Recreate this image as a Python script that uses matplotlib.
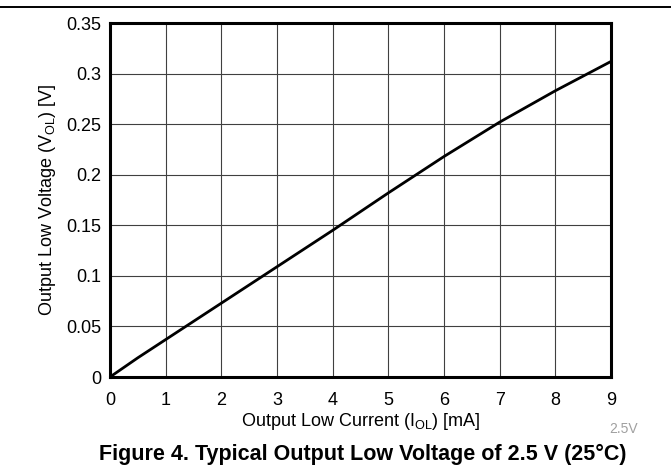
import matplotlib.pyplot as plt
import numpy as np

plt.rcParams["font.family"] = ["Liberation Sans", "DejaVu Sans"]

# Output low current (mA) vs output low voltage (V)
i_ol = [0, 0.5, 1, 2, 3, 4, 5, 6, 7, 8, 9]
v_ol = [0, 0.019, 0.037, 0.073, 0.109, 0.145, 0.182, 0.218, 0.252, 0.283, 0.312]

x_ticks = list(range(0, 10))
y_ticks = [0, 0.05, 0.1, 0.15, 0.2, 0.25, 0.3, 0.35]
y_tick_labels = ["0", "0.05", "0.1", "0.15", "0.2", "0.25", "0.3", "0.35"]

fig = plt.figure(figsize=(6.71, 4.65), dpi=100)
ax = fig.add_axes([110 / 671, 1 - 377 / 465, 501 / 671, 354 / 465])

ax.plot(i_ol, v_ol, color="black", lw=2.0, solid_capstyle="butt")

ax.set_xlim(0, 9)
ax.set_ylim(0, 0.35)
ax.set_xticks(x_ticks)
ax.set_yticks(y_ticks)
ax.set_yticklabels(y_tick_labels)
ax.tick_params(length=0, labelsize=13)
ax.tick_params(axis="x", pad=10.5)
ax.tick_params(axis="y", pad=6)
ax.grid(True, color="#404040", lw=0.8)
for s in ax.spines.values():
    s.set_linewidth(2.2)
    s.set_color("black")

ax.set_xlabel(r"Output Low Current (I$_{\mathregular{OL}}$) [mA]", fontsize=13, labelpad=1.5)
ax.set_ylabel(r"Output Low Voltage (V$_{\mathregular{OL}}$) [V]", fontsize=13, labelpad=6.5)

# top rule across the page
fig.add_artist(plt.Line2D([0, 1], [1 - 7 / 465, 1 - 7 / 465], color="black", lw=1.4))

fig.text(624 / 671, 1 - 429 / 465, "2.5V", fontsize=10, color="#a0a0a0", ha="center", va="center")
fig.text(363 / 671, 1 - 454 / 465, "Figure 4. Typical Output Low Voltage of 2.5 V (25°C)",
         fontsize=15.5, fontweight="bold", ha="center", va="center")

fig.savefig("out.png", dpi=100)
